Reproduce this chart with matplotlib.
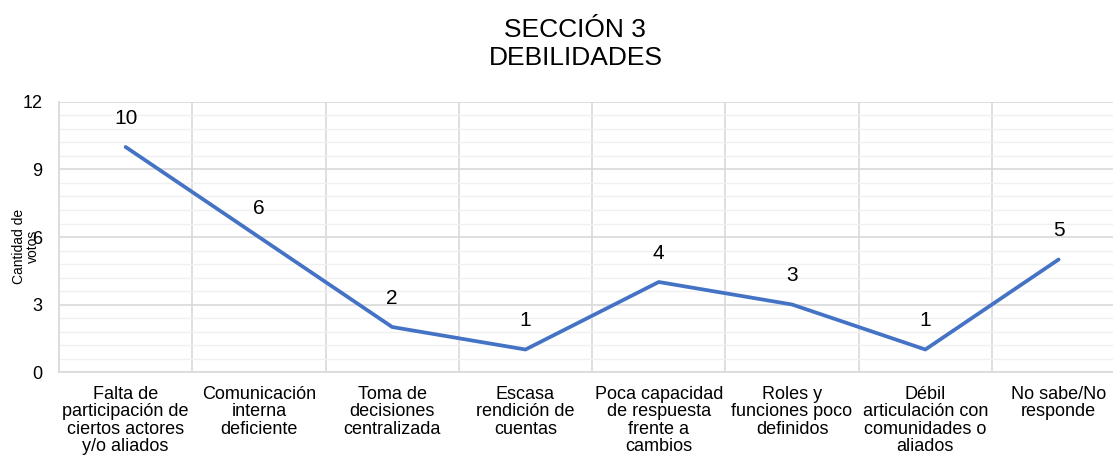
import numpy as np
import matplotlib.pyplot as plt
from matplotlib.ticker import MultipleLocator

plt.rcParams['font.family'] = ['Liberation Sans', 'DejaVu Sans']

categorias = ["Falta de\nparticipación de\nciertos actores\ny/o aliados",
              "Comunicación\ninterna\ndeficiente",
              "Toma de\ndecisiones\ncentralizada",
              "Escasa\nrendición de\ncuentas",
              "Poca capacidad\nde respuesta\nfrente a\ncambios",
              "Roles y\nfunciones poco\ndefinidos",
              "Débil\narticulación con\ncomunidades o\naliados",
              "No sabe/No\nresponde"]
votos = [10, 6, 2, 1, 4, 3, 1, 5]

fig = plt.figure(figsize=(11.13, 4.67), dpi=100)
ax = fig.add_axes([0.053, 0.2034, 0.958, 0.5782])

x = np.arange(len(votos))
ax.plot(x, votos, color='#4472c4', linewidth=2.7, solid_capstyle='round', zorder=3)
for xi, v in zip(x, votos):
    ax.annotate(str(v), (xi, v), xytext=(0, 14), textcoords='offset points',
                ha='center', va='bottom', fontsize=15, color='#000000')

ax.set_xlim(-0.5, len(votos) - 0.5)
ax.set_ylim(0, 12)
ax.yaxis.set_major_locator(MultipleLocator(3))
ax.yaxis.set_minor_locator(MultipleLocator(0.6))
ax.set_xticks(x)
ax.set_xticklabels(categorias, fontsize=13, linespacing=1.03, va='top')
ax.set_xticks(np.arange(len(votos) + 1) - 0.5, minor=True)
ax.tick_params(axis='both', which='both', length=0)
ax.tick_params(axis='y', labelsize=13, pad=12)
ax.tick_params(axis='x', pad=10)

ax.grid(True, axis='y', which='major', color='#d9d9d9', linewidth=1.2)
ax.grid(True, axis='y', which='minor', color='#f0f0f0', linewidth=1.0)
ax.grid(True, axis='x', which='minor', color='#d9d9d9', linewidth=1.2)
ax.grid(False, axis='x', which='major')
for s in ['top', 'right']:
    ax.spines[s].set_visible(False)
ax.spines['left'].set_color('#d9d9d9')
ax.spines['bottom'].set_color('#d9d9d9')
ax.spines['left'].set_linewidth(1.2)
ax.spines['bottom'].set_linewidth(1.2)

fig.text(0.023, 0.473, "Cantidad de\nvotos", rotation=90, ha='center', va='center',
         fontsize=10, linespacing=1.0)
fig.text(0.517, 0.906, "SECCIÓN 3\nDEBILIDADES", ha='center', va='center',
         fontsize=19, linespacing=1.2)

fig.savefig('out.png', dpi=100)
